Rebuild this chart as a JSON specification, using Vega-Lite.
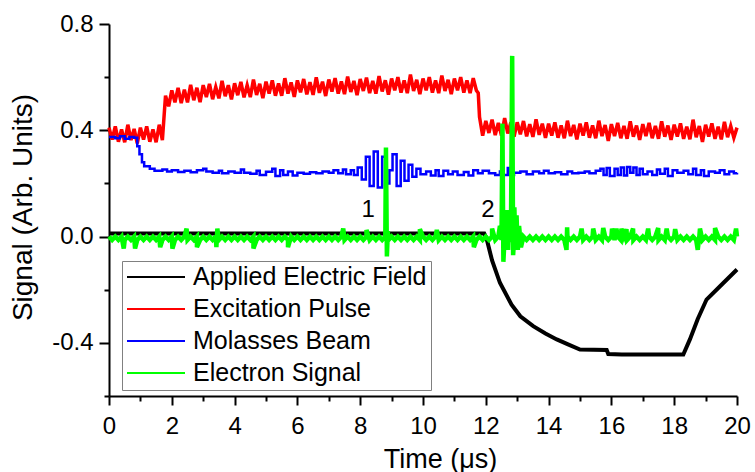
{
  "$schema": "https://vega.github.io/schema/vega-lite/v6.json",
  "autosize": {"type": "none"},
  "width": 628,
  "height": 372,
  "padding": {"left": 109, "top": 24, "right": 18, "bottom": 76},
  "background": "white",
  "config": {
    "view": {"stroke": null},
    "font": "Liberation Sans",
    "axis": {"grid": false, "domainColor": "#000000", "domainWidth": 2, "tickColor": "#000000", "tickWidth": 2, "labelColor": "#000000", "titleColor": "#000000", "labelFont": "Liberation Sans", "titleFont": "Liberation Sans", "titleFontWeight": "normal", "labelFlush": false, "labelOverlap": false, "labelBound": false},
    "legend": {"strokeWidth": 1}
  },
  "datasets": {
    "ann": [{"t": 8.25, "v": 0.1, "lab": "1"}, {"t": 12.07, "v": 0.1, "lab": "2"}],
    "main": [
      {"t":0,"r":0.41,"g":0.0},{"t":0.1,"r":0.365,"g":-0.013},{"t":0.2,"r":0.415,"g":0.0},{"t":0.3,"r":0.357,"g":-0.013},{"t":0.4,"r":0.403,"g":0.0},{"t":0.5,"r":0.355,"g":-0.013},{"t":0.6,"r":0.421,"g":0.0},{"t":0.7,"r":0.363,"g":-0.013},{"t":0.8,"r":0.405,"g":0.0},{"t":0.9,"r":0.351,"g":-0.013},
      {"t":1.0,"r":0.41,"g":0.0},{"t":1.1,"r":0.365,"g":-0.013},{"t":1.2,"r":0.415,"g":0.0},{"t":1.3,"r":0.357,"g":-0.013},{"t":1.4,"r":0.403,"g":0.0},{"t":1.5,"r":0.355,"g":-0.013},{"t":1.6,"r":0.421,"g":0.0},{"t":1.7,"r":0.363,"g":-0.013},{"t":1.8,"r":0.53,"g":0.0},{"t":1.9,"r":0.49,"g":-0.013},
      {"t":2.0,"r":0.55,"g":0.0},{"t":2.1,"r":0.505,"g":-0.013},{"t":2.2,"r":0.56,"g":0.0},{"t":2.3,"r":0.502,"g":-0.013},{"t":2.4,"r":0.553,"g":0.0},{"t":2.5,"r":0.505,"g":-0.013},{"t":2.6,"r":0.571,"g":0.0},{"t":2.7,"r":0.513,"g":-0.013},{"t":2.8,"r":0.56,"g":0.0},{"t":2.9,"r":0.506,"g":-0.013},
      {"t":3.0,"r":0.57,"g":0.0},{"t":3.1,"r":0.525,"g":-0.013},{"t":3.2,"r":0.575,"g":0.0},{"t":3.3,"r":0.517,"g":-0.013},{"t":3.4,"r":0.563,"g":0.0},{"t":3.5,"r":0.52,"g":-0.013},{"t":3.6,"r":0.586,"g":0.0},{"t":3.7,"r":0.528,"g":-0.013},{"t":3.8,"r":0.57,"g":0.0},{"t":3.9,"r":0.516,"g":-0.013},
      {"t":4.0,"r":0.577,"g":0.0},{"t":4.1,"r":0.532,"g":-0.013},{"t":4.2,"r":0.582,"g":0.0},{"t":4.3,"r":0.524,"g":-0.013},{"t":4.4,"r":0.57,"g":0.0},{"t":4.5,"r":0.525,"g":-0.013},{"t":4.6,"r":0.591,"g":0.0},{"t":4.7,"r":0.533,"g":-0.013},{"t":4.8,"r":0.575,"g":0.0},{"t":4.9,"r":0.521,"g":-0.013},
      {"t":5.0,"r":0.583,"g":0.0},{"t":5.1,"r":0.538,"g":-0.013},{"t":5.2,"r":0.588,"g":0.0},{"t":5.3,"r":0.53,"g":-0.013},{"t":5.4,"r":0.576,"g":0.0},{"t":5.5,"r":0.53,"g":-0.013},{"t":5.6,"r":0.596,"g":0.0},{"t":5.7,"r":0.538,"g":-0.013},{"t":5.8,"r":0.58,"g":0.0},{"t":5.9,"r":0.526,"g":-0.013},
      {"t":6.0,"r":0.588,"g":0.0},{"t":6.1,"r":0.543,"g":-0.013},{"t":6.2,"r":0.593,"g":0.0},{"t":6.3,"r":0.535,"g":-0.013},{"t":6.4,"r":0.581,"g":0.0},{"t":6.5,"r":0.533,"g":-0.013},{"t":6.6,"r":0.599,"g":0.0},{"t":6.7,"r":0.541,"g":-0.013},{"t":6.8,"r":0.583,"g":0.0},{"t":6.9,"r":0.529,"g":-0.013},
      {"t":7.0,"r":0.591,"g":0.0},{"t":7.1,"r":0.546,"g":-0.013},{"t":7.2,"r":0.596,"g":0.0},{"t":7.3,"r":0.538,"g":-0.013},{"t":7.4,"r":0.584,"g":0.0},{"t":7.5,"r":0.536,"g":-0.013},{"t":7.6,"r":0.602,"g":0.0},{"t":7.7,"r":0.544,"g":-0.013},{"t":7.8,"r":0.586,"g":0.0},{"t":7.9,"r":0.532,"g":-0.013},
      {"t":8.0,"r":0.593,"g":0.0},{"t":8.1,"r":0.548,"g":-0.013},{"t":8.2,"r":0.598,"g":0.0},{"t":8.3,"r":0.54,"g":-0.013},{"t":8.4,"r":0.586,"g":0.0},{"t":8.5,"r":0.538,"g":-0.013},{"t":8.6,"r":0.604,"g":0.0},{"t":8.7,"r":0.546,"g":-0.013},{"t":8.8,"r":0.588,"g":0.0},{"t":8.9,"r":0.534,"g":-0.013},
      {"t":9.0,"r":0.595,"g":0.0},{"t":9.1,"r":0.55,"g":-0.013},{"t":9.2,"r":0.6,"g":0.0},{"t":9.3,"r":0.542,"g":-0.013},{"t":9.4,"r":0.588,"g":0.0},{"t":9.5,"r":0.54,"g":-0.013},{"t":9.6,"r":0.61,"g":0.0},{"t":9.7,"r":0.548,"g":-0.013},{"t":9.8,"r":0.59,"g":0.0},{"t":9.9,"r":0.536,"g":-0.013},
      {"t":10.0,"r":0.595,"g":0.0},{"t":10.1,"r":0.55,"g":-0.013},{"t":10.2,"r":0.6,"g":0.0},{"t":10.3,"r":0.542,"g":-0.013},{"t":10.4,"r":0.588,"g":0.0},{"t":10.5,"r":0.54,"g":-0.013},{"t":10.6,"r":0.606,"g":0.0},{"t":10.7,"r":0.548,"g":-0.013},{"t":10.8,"r":0.59,"g":0.0},{"t":10.9,"r":0.536,"g":-0.013},
      {"t":11.0,"r":0.595,"g":0.0},{"t":11.1,"r":0.55,"g":-0.013},{"t":11.2,"r":0.6,"g":0.0},{"t":11.3,"r":0.542,"g":-0.013},{"t":11.4,"r":0.588,"g":0.0},{"t":11.5,"r":0.54,"g":-0.013},{"t":11.6,"r":0.596,"g":0.0},{"t":11.7,"r":0.55,"g":-0.013},{"t":11.76,"r":0.54},{"t":11.8,"r":0.45,"g":0.0},{"t":11.9,"r":0.38,"g":-0.013},
      {"t":12.0,"r":0.435,"g":0.0},{"t":12.1,"r":0.39,"g":-0.013},{"t":12.2,"r":0.44,"g":0.0},{"t":12.3,"r":0.382,"g":-0.013},{"t":12.4,"r":0.428,"g":0.0},{"t":12.5,"r":0.38,"g":-0.013},{"t":12.6,"r":0.446,"g":0.0},{"t":12.7,"r":0.388,"g":-0.013},{"t":12.8,"r":0.43,"g":0.0},{"t":12.9,"r":0.376,"g":-0.013},
      {"t":13.0,"r":0.43,"g":0.0},{"t":13.1,"r":0.385,"g":-0.013},{"t":13.2,"r":0.435,"g":0.0},{"t":13.3,"r":0.377,"g":-0.013},{"t":13.4,"r":0.423,"g":0.0},{"t":13.5,"r":0.375,"g":-0.013},{"t":13.6,"r":0.441,"g":0.0},{"t":13.7,"r":0.383,"g":-0.013},{"t":13.8,"r":0.425,"g":0.0},{"t":13.9,"r":0.371,"g":-0.013},
      {"t":14.0,"r":0.425,"g":0.0},{"t":14.1,"r":0.38,"g":-0.013},{"t":14.2,"r":0.43,"g":0.0},{"t":14.3,"r":0.372,"g":-0.013},{"t":14.4,"r":0.418,"g":0.0},{"t":14.5,"r":0.37,"g":-0.013},{"t":14.6,"r":0.436,"g":0.0},{"t":14.7,"r":0.378,"g":-0.013},{"t":14.8,"r":0.42,"g":0.0},{"t":14.9,"r":0.366,"g":-0.013},
      {"t":15.0,"r":0.425,"g":0.0},{"t":15.1,"r":0.38,"g":-0.013},{"t":15.2,"r":0.43,"g":0.0},{"t":15.3,"r":0.372,"g":-0.013},{"t":15.4,"r":0.418,"g":0.0},{"t":15.5,"r":0.37,"g":-0.013},{"t":15.6,"r":0.436,"g":0.0},{"t":15.7,"r":0.378,"g":-0.013},{"t":15.8,"r":0.42,"g":0.0},{"t":15.9,"r":0.36,"g":-0.013},
      {"t":16.0,"r":0.423,"g":0.0},{"t":16.1,"r":0.378,"g":-0.013},{"t":16.2,"r":0.428,"g":0.0},{"t":16.3,"r":0.37,"g":-0.013},{"t":16.4,"r":0.416,"g":0.0},{"t":16.5,"r":0.368,"g":-0.013},{"t":16.6,"r":0.434,"g":0.0},{"t":16.7,"r":0.376,"g":-0.013},{"t":16.8,"r":0.418,"g":0.0},{"t":16.9,"r":0.364,"g":-0.013},
      {"t":17.0,"r":0.423,"g":0.0},{"t":17.1,"r":0.378,"g":-0.013},{"t":17.2,"r":0.428,"g":0.0},{"t":17.3,"r":0.37,"g":-0.013},{"t":17.4,"r":0.416,"g":0.0},{"t":17.5,"r":0.368,"g":-0.013},{"t":17.6,"r":0.434,"g":0.0},{"t":17.7,"r":0.376,"g":-0.013},{"t":17.8,"r":0.418,"g":0.0},{"t":17.9,"r":0.364,"g":-0.013},
      {"t":18.0,"r":0.421,"g":0.0},{"t":18.1,"r":0.376,"g":-0.013},{"t":18.2,"r":0.426,"g":0.0},{"t":18.3,"r":0.368,"g":-0.013},{"t":18.4,"r":0.414,"g":0.0},{"t":18.5,"r":0.366,"g":-0.013},{"t":18.6,"r":0.44,"g":0.0},{"t":18.7,"r":0.374,"g":-0.013},{"t":18.8,"r":0.416,"g":0.0},{"t":18.9,"r":0.356,"g":-0.013},
      {"t":19.0,"r":0.421,"g":0.0},{"t":19.1,"r":0.376,"g":-0.013},{"t":19.2,"r":0.426,"g":0.0},{"t":19.3,"r":0.368,"g":-0.013},{"t":19.4,"r":0.414,"g":0.0},{"t":19.5,"r":0.366,"g":-0.013},{"t":19.6,"r":0.432,"g":0.0},{"t":19.7,"r":0.374,"g":-0.013},{"t":19.8,"r":0.416,"g":0.0},{"t":19.9,"r":0.372,"g":-0.013},
      {"t":20.0,"r":0.41,"g":0.0},
      {"t":0.47,"g":-0.045},{"t":0.83,"g":-0.045},{"t":1.63,"g":-0.04},{"t":2.02,"g":-0.045},{"t":2.47,"g":0.03},{"t":2.8,"g":-0.04},{"t":3.42,"g":-0.04},{"t":3.45,"g":0.03},{"t":4.6,"g":-0.045},{"t":5.7,"g":-0.04},{"t":7.46,"g":0.03},{"t":8.2,"g":0.025},
      {"t":8.82,"g":0.335},{"t":8.85,"g":-0.075},{"t":8.88,"g":0.02},{"t":9.9,"g":0.028},{"t":10.44,"g":0.025},{"t":11.62,"g":-0.04},{"t":12.2,"g":0.03},
      {"t":12.45,"g":0.04},{"t":12.53,"g":0.425},{"t":12.56,"g":-0.095},{"t":12.62,"g":0.1},{"t":12.64,"g":-0.04},{"t":12.67,"g":0.1},{"t":12.71,"g":-0.05},{"t":12.74,"g":0.08},{"t":12.77,"g":-0.02},{"t":12.84,"g":0.68},{"t":12.87,"g":-0.07},{"t":12.91,"g":0.11},{"t":12.94,"g":-0.04},{"t":12.98,"g":0.08},{"t":13.02,"g":-0.05},{"t":13.06,"g":0.04},{"t":13.12,"g":-0.04},
      {"t":14.57,"g":-0.05},{"t":14.59,"g":0.035},{"t":15.05,"g":0.03},{"t":15.42,"g":0.03},{"t":15.74,"g":0.032},{"t":16.02,"g":0.03},{"t":16.16,"g":0.03},{"t":16.32,"g":0.03},{"t":16.48,"g":0.028},{"t":16.69,"g":0.03},{"t":17.17,"g":0.03},{"t":17.49,"g":0.032},{"t":17.76,"g":0.03},{"t":18.03,"g":0.028},{"t":18.75,"g":-0.05},{"t":18.82,"g":0.03},{"t":19.3,"g":0.032},{"t":19.97,"g":0.03},
      {"t":0,"b":0.375},{"t":0.2,"b":0.37},{"t":0.35,"b":0.378},{"t":0.5,"b":0.368},{"t":0.65,"b":0.375},{"t":0.8,"b":0.372},{"t":0.9,"b":0.34},{"t":0.97,"b":0.31},{"t":1.05,"b":0.28},{"t":1.12,"b":0.265},{"t":1.3,"b":0.255},{"t":1.45,"b":0.248},{"t":1.7,"b":0.252},{"t":1.85,"b":0.245},
      {"t":2.0,"b":0.25},{"t":2.2,"b":0.243},{"t":2.4,"b":0.248},{"t":2.6,"b":0.242},{"t":2.8,"b":0.25},{"t":3.0,"b":0.255},{"t":3.1,"b":0.245},{"t":3.3,"b":0.24},{"t":3.5,"b":0.248},{"t":3.6,"b":0.238},{"t":3.8,"b":0.245},{"t":4.0,"b":0.24},{"t":4.2,"b":0.252},{"t":4.3,"b":0.24},{"t":4.5,"b":0.236},{"t":4.7,"b":0.248},{"t":4.8,"b":0.232},
      {"t":5.0,"b":0.244},{"t":5.2,"b":0.255},{"t":5.3,"b":0.228},{"t":5.45,"b":0.25},{"t":5.55,"b":0.232},{"t":5.7,"b":0.245},{"t":5.85,"b":0.23},{"t":6.0,"b":0.24},{"t":6.2,"b":0.236},{"t":6.4,"b":0.242},{"t":6.6,"b":0.238},{"t":6.8,"b":0.245},{"t":7.0,"b":0.24},{"t":7.15,"b":0.25},{"t":7.3,"b":0.238},{"t":7.45,"b":0.252},{"t":7.55,"b":0.235},{"t":7.7,"b":0.25},{"t":7.8,"b":0.232},
      {"t":7.92,"b":0.26},{"t":8.05,"b":0.215},{"t":8.18,"b":0.3},{"t":8.3,"b":0.19},{"t":8.43,"b":0.32},{"t":8.56,"b":0.185},{"t":8.7,"b":0.3},{"t":8.82,"b":0.2},{"t":8.93,"b":0.25},{"t":9.03,"b":0.31},{"t":9.16,"b":0.19},{"t":9.29,"b":0.285},{"t":9.41,"b":0.21},{"t":9.54,"b":0.27},{"t":9.66,"b":0.225},{"t":9.79,"b":0.255},{"t":9.92,"b":0.235},
      {"t":10.1,"b":0.245},{"t":10.25,"b":0.23},{"t":10.4,"b":0.25},{"t":10.5,"b":0.228},{"t":10.65,"b":0.248},{"t":10.8,"b":0.235},{"t":10.95,"b":0.245},{"t":11.1,"b":0.232},{"t":11.3,"b":0.243},{"t":11.45,"b":0.23},{"t":11.6,"b":0.25},{"t":11.75,"b":0.238},{"t":11.9,"b":0.248},
      {"t":12.1,"b":0.238},{"t":12.3,"b":0.232},{"t":12.45,"b":0.245},{"t":12.55,"b":0.232},{"t":12.7,"b":0.258},{"t":12.78,"b":0.232},{"t":12.9,"b":0.24},{"t":13.1,"b":0.245},{"t":13.3,"b":0.235},{"t":13.5,"b":0.245},{"t":13.7,"b":0.238},{"t":13.85,"b":0.248},{"t":14.0,"b":0.238},{"t":14.2,"b":0.242},{"t":14.4,"b":0.235},{"t":14.6,"b":0.245},{"t":14.75,"b":0.238},{"t":14.95,"b":0.24},
      {"t":15.15,"b":0.245},{"t":15.3,"b":0.238},{"t":15.5,"b":0.248},{"t":15.65,"b":0.255},{"t":15.75,"b":0.232},{"t":15.85,"b":0.258},{"t":15.95,"b":0.228},{"t":16.1,"b":0.255},{"t":16.2,"b":0.232},{"t":16.3,"b":0.26},{"t":16.4,"b":0.23},{"t":16.5,"b":0.262},{"t":16.6,"b":0.24},{"t":16.7,"b":0.26},{"t":16.8,"b":0.232},{"t":16.9,"b":0.255},
      {"t":17.0,"b":0.235},{"t":17.15,"b":0.245},{"t":17.3,"b":0.232},{"t":17.45,"b":0.252},{"t":17.55,"b":0.236},{"t":17.7,"b":0.255},{"t":17.8,"b":0.228},{"t":17.95,"b":0.25},{"t":18.1,"b":0.24},{"t":18.3,"b":0.248},{"t":18.45,"b":0.235},{"t":18.6,"b":0.255},{"t":18.7,"b":0.232},{"t":18.85,"b":0.25},{"t":18.95,"b":0.228},
      {"t":19.1,"b":0.245},{"t":19.3,"b":0.24},{"t":19.45,"b":0.25},{"t":19.6,"b":0.235},{"t":19.75,"b":0.245},{"t":19.9,"b":0.238},{"t":20.0,"b":0.24},
      {"t":0,"k":0.012},{"t":11.95,"k":0.012},{"t":12.03,"k":-0.01},{"t":12.2,"k":-0.09},{"t":12.45,"k":-0.174},{"t":12.82,"k":-0.256},{"t":13.1,"k":-0.3},{"t":13.51,"k":-0.337},{"t":13.9,"k":-0.365},{"t":14.26,"k":-0.387},{"t":14.6,"k":-0.405},{"t":15.0,"k":-0.425},{"t":15.85,"k":-0.427},{"t":15.9,"k":-0.442},{"t":16.33,"k":-0.444},{"t":17.5,"k":-0.444},{"t":18.29,"k":-0.444},{"t":18.5,"k":-0.387},{"t":18.75,"k":-0.31},{"t":19.03,"k":-0.237},{"t":19.46,"k":-0.187},{"t":20.0,"k":-0.124}
    ]
  },
  "data": {"name": "main"},
  "resolve": {"axis": {"x": "independent", "y": "independent"}},
  "layer": [
    {
      "transform": [{"filter": {"field": "k", "valid": true}}],
      "mark": {"type": "line", "strokeWidth": 4},
      "encoding": {
        "x": {"field": "t", "type": "quantitative", "scale": {"domain": [0, 20], "nice": false},
          "axis": {"orient": "bottom", "values": [0, 2, 4, 6, 8, 10, 12, 14, 16, 18, 20], "tickSize": 9, "labelFontSize": 24, "labelPadding": 9, "title": "Time (μs)", "titleFontSize": 27, "titleX": 331, "titleY": 71, "titleBaseline": "alphabetic", "titleAlign": "center"}},
        "y": {"field": "k", "type": "quantitative", "scale": {"domain": [-0.6, 0.8], "nice": false, "zero": false},
          "axis": {"orient": "left", "values": [-0.4, 0, 0.4, 0.8], "tickSize": 10, "labelFontSize": 24, "labelPadding": 6, "labelExpr": "datum.value < 0 ? '-' + format(-datum.value, '.1f') : format(datum.value, '.1f')", "title": "Signal (Arb. Units)", "titleFontSize": 28, "titleAngle": -90, "titleX": -78, "titleY": 183, "titleBaseline": "alphabetic", "titleAlign": "center"}},
        "color": {"datum": "Applied Electric Field", "type": "nominal",
          "scale": {"domain": ["Applied Electric Field", "Excitation Pulse", "Molasses Beam", "Electron Signal"], "range": ["#000000", "#ff0000", "#0000ff", "#00ff00"]},
          "legend": {"title": null, "orient": "none", "legendX": 13, "legendY": 237, "padding": 4, "strokeColor": "#808080", "fillColor": "white", "symbolType": "stroke", "symbolSize": 3364, "symbolStrokeWidth": 2, "clipHeight": 24, "rowPadding": 7, "labelFontSize": 25, "labelFont": "Liberation Sans", "labelColor": "#000000", "labelOffset": 7, "labelLimit": 0}}
      }
    },
    {
      "transform": [{"filter": {"field": "r", "valid": true}}],
      "mark": {"type": "line", "strokeWidth": 3.5},
      "encoding": {
        "x": {"field": "t", "type": "quantitative", "scale": {"domain": [0, 20], "nice": false},
          "axis": {"orient": "bottom", "values": [1, 3, 5, 7, 9, 11, 13, 15, 17, 19], "tickSize": 5, "labels": false, "domain": false, "title": null}},
        "y": {"field": "r", "type": "quantitative", "scale": {"domain": [-0.6, 0.8], "nice": false, "zero": false},
          "axis": {"orient": "left", "values": [-0.6, -0.2, 0.2, 0.6], "tickSize": 5, "labels": false, "domain": false, "title": null}},
        "color": {"datum": "Excitation Pulse", "type": "nominal"}
      }
    },
    {
      "transform": [{"filter": {"field": "b", "valid": true}}],
      "mark": {"type": "line", "strokeWidth": 2.5, "interpolate": "step-after"},
      "encoding": {
        "x": {"field": "t", "type": "quantitative", "scale": {"domain": [0, 20], "nice": false}, "axis": null},
        "y": {"field": "b", "type": "quantitative", "scale": {"domain": [-0.6, 0.8], "nice": false, "zero": false}, "axis": null},
        "color": {"datum": "Molasses Beam", "type": "nominal"}
      }
    },
    {
      "transform": [{"filter": {"field": "g", "valid": true}}],
      "mark": {"type": "line", "strokeWidth": 4.5},
      "encoding": {
        "x": {"field": "t", "type": "quantitative", "scale": {"domain": [0, 20], "nice": false}, "axis": null},
        "y": {"field": "g", "type": "quantitative", "scale": {"domain": [-0.6, 0.8], "nice": false, "zero": false}, "axis": null},
        "color": {"datum": "Electron Signal", "type": "nominal"}
      }
    },
    {
      "data": {"name": "ann"},
      "mark": {"type": "text", "fontSize": 24, "font": "Liberation Sans", "align": "center", "baseline": "middle", "color": "#000000"},
      "encoding": {
        "x": {"field": "t", "type": "quantitative", "scale": {"domain": [0, 20], "nice": false}, "axis": null},
        "y": {"field": "v", "type": "quantitative", "scale": {"domain": [-0.6, 0.8], "nice": false, "zero": false}, "axis": null},
        "text": {"field": "lab"}
      }
    }
  ]
}
